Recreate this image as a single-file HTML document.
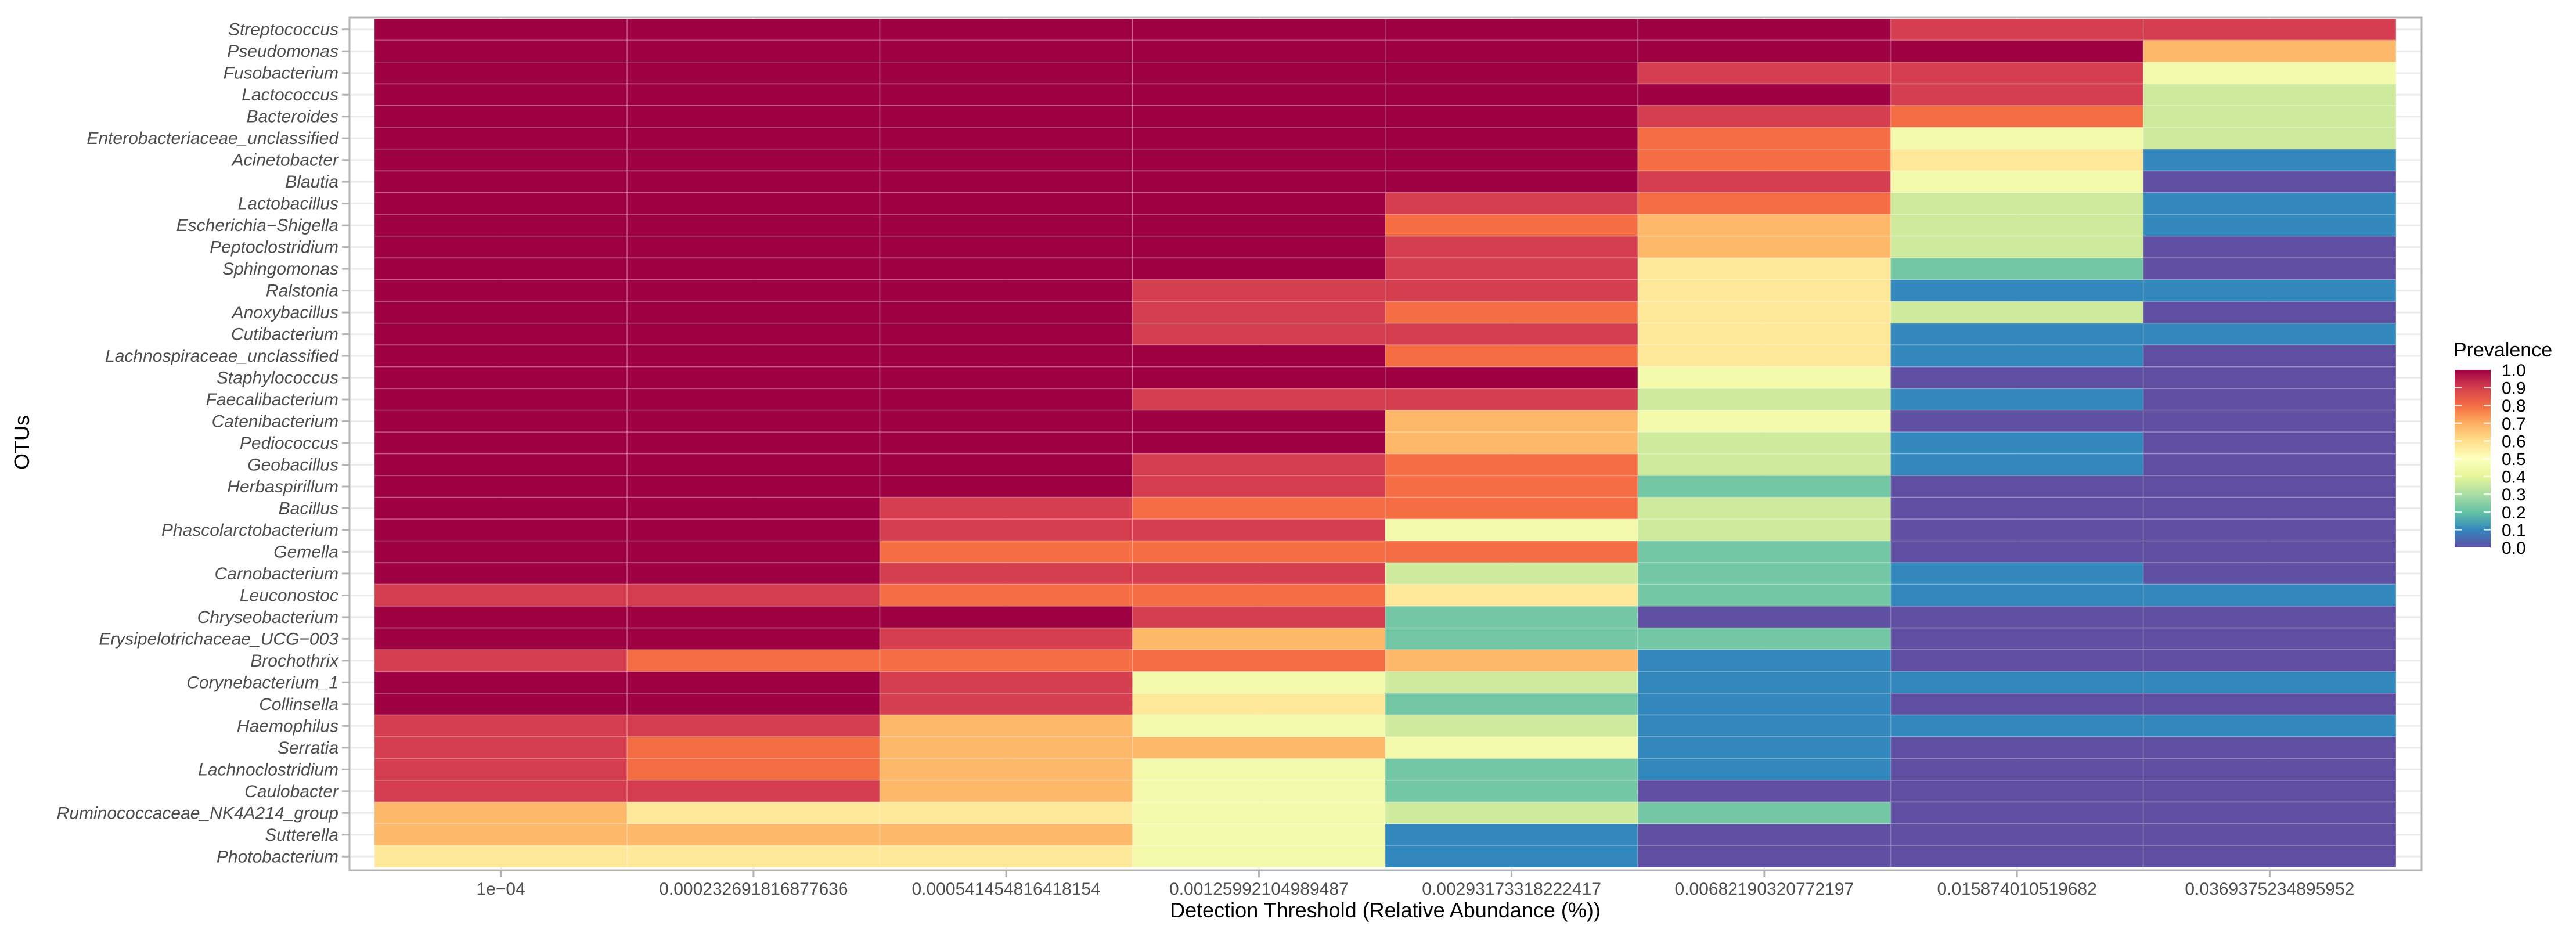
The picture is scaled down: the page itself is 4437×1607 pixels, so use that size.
<!DOCTYPE html>
<html><head><meta charset="utf-8"><style>
html,body{margin:0;padding:0;background:#fff;}
svg{display:block;font-family:"Liberation Sans",Arial,sans-serif;}
</style></head><body>
<svg id="chart" width="4437" height="1607" viewBox="0 0 4437 1607" xmlns="http://www.w3.org/2000/svg">
<defs>
<linearGradient id="spec" x1="0" y1="1" x2="0" y2="0">
<stop offset="0" stop-color="#5E4FA2"/><stop offset="0.1" stop-color="#3288BD"/><stop offset="0.2" stop-color="#66C2A5"/><stop offset="0.3" stop-color="#ABDDA4"/><stop offset="0.4" stop-color="#E6F598"/><stop offset="0.5" stop-color="#FFFFBF"/><stop offset="0.6" stop-color="#FEE08B"/><stop offset="0.7" stop-color="#FDAE61"/><stop offset="0.8" stop-color="#F46D43"/><stop offset="0.9" stop-color="#D53E4F"/><stop offset="1" stop-color="#9E0142"/>
</linearGradient>
</defs>
<rect x="602" y="30" width="3569" height="1469" fill="#fff" stroke="#b3b3b3" stroke-width="3"/>
<g id="grid"></g>
<g id="tiles"></g>
<g id="yaxis"></g>
<g id="xaxis"></g>
<text x="2386" y="1580" font-size="36" text-anchor="middle" fill="#000">Detection Threshold (Relative Abundance (%))</text>
<text transform="translate(50,762) rotate(-90)" font-size="36" text-anchor="middle" fill="#000">OTUs</text>
<g>
<text x="4226" y="614" font-size="34" fill="#000">Prevalence</text>
<rect x="4228" y="637" width="62" height="306" fill="url(#spec)"/>
<g id="legticks"></g>
</g>
</svg>
<script>
const thresholds = ["1e-04","0.000232691816877636","0.000541454816418154","0.00125992104989487","0.00293173318222417","0.00682190320772197","0.015874010519682","0.0369375234895952"];
const otus = ["Streptococcus","Pseudomonas","Fusobacterium","Lactococcus","Bacteroides","Enterobacteriaceae_unclassified","Acinetobacter","Blautia","Lactobacillus","Escherichia\u2212Shigella","Peptoclostridium","Sphingomonas","Ralstonia","Anoxybacillus","Cutibacterium","Lachnospiraceae_unclassified","Staphylococcus","Faecalibacterium","Catenibacterium","Pediococcus","Geobacillus","Herbaspirillum","Bacillus","Phascolarctobacterium","Gemella","Carnobacterium","Leuconostoc","Chryseobacterium","Erysipelotrichaceae_UCG\u2212003","Brochothrix","Corynebacterium_1","Collinsella","Haemophilus","Serratia","Lachnoclostridium","Caulobacter","Ruminococcaceae_NK4A214_group","Sutterella","Photobacterium"];
const prevalence = [
[1,1,1,1,1,1,0.9,0.9],
[1,1,1,1,1,1,1,0.68],
[1,1,1,1,1,0.9,0.9,0.45],
[1,1,1,1,1,1,0.9,0.36],
[1,1,1,1,1,0.9,0.8,0.36],
[1,1,1,1,1,0.8,0.45,0.36],
[1,1,1,1,1,0.8,0.57,0.1],
[1,1,1,1,1,0.9,0.45,0],
[1,1,1,1,0.9,0.8,0.36,0.1],
[1,1,1,1,0.8,0.68,0.36,0.1],
[1,1,1,1,0.9,0.68,0.36,0],
[1,1,1,1,0.9,0.57,0.22,0],
[1,1,1,0.9,0.9,0.57,0.1,0.1],
[1,1,1,0.9,0.8,0.57,0.36,0],
[1,1,1,0.9,0.9,0.57,0.1,0.1],
[1,1,1,1,0.8,0.57,0.1,0],
[1,1,1,1,1,0.45,0,0],
[1,1,1,0.9,0.9,0.36,0.1,0],
[1,1,1,1,0.68,0.45,0,0],
[1,1,1,1,0.68,0.36,0.1,0],
[1,1,1,0.9,0.8,0.36,0.1,0],
[1,1,1,0.9,0.8,0.22,0,0],
[1,1,0.9,0.8,0.8,0.36,0,0],
[1,1,0.9,0.9,0.45,0.36,0,0],
[1,1,0.8,0.8,0.8,0.22,0,0],
[1,1,0.9,0.9,0.36,0.22,0.1,0],
[0.9,0.9,0.8,0.8,0.57,0.22,0.1,0.1],
[1,1,1,0.9,0.22,0,0,0],
[1,1,0.9,0.68,0.22,0.22,0,0],
[0.9,0.8,0.8,0.8,0.68,0.1,0,0],
[1,1,0.9,0.45,0.36,0.1,0.1,0.1],
[1,1,0.9,0.57,0.22,0.1,0,0],
[0.9,0.9,0.68,0.45,0.36,0.1,0.1,0.1],
[0.9,0.8,0.68,0.68,0.45,0.1,0,0],
[0.9,0.8,0.68,0.45,0.22,0.1,0,0],
[0.9,0.9,0.68,0.45,0.22,0,0,0],
[0.68,0.57,0.57,0.45,0.36,0.22,0,0],
[0.68,0.68,0.68,0.45,0.1,0,0,0],
[0.57,0.57,0.57,0.45,0.1,0,0,0]
];
const legendTicks = [0,0.1,0.2,0.3,0.4,0.5,0.6,0.7,0.8,0.9,1.0];

const NS="http://www.w3.org/2000/svg";
const X0=645,X1=4127,Y0=32,Y1=1494;
const colW=(X1-X0)/thresholds.length, rowH=(Y1-Y0)/otus.length;
const xPos=i=>X0+i*colW, yPos=j=>Y0+j*rowH;
const pal=["#5E4FA2","#3288BD","#66C2A5","#ABDDA4","#E6F598","#FFFFBF","#FEE08B","#FDAE61","#F46D43","#D53E4F","#9E0142"];
function hex(c){return [1,3,5].map(k=>parseInt(c.substr(k,2),16));}
function color(v){const t=Math.max(0,Math.min(1,v))*10;const i=Math.min(9,Math.floor(t));const f=t-i;const a=hex(pal[i]),b=hex(pal[i+1]);return "rgb("+a.map((x,k)=>Math.round(x+(b[k]-x)*f)).join(",")+")";}
function mk(tag,attrs,parent){const e=document.createElementNS(NS,tag);for(const k in attrs)e.setAttribute(k,attrs[k]);parent.appendChild(e);return e;}

const grid=document.getElementById('grid');
otus.forEach((o,j)=>{const l=mk('line',{x1:604,x2:4169,y1:yPos(j)+rowH/2,y2:yPos(j)+rowH/2,stroke:'#ebebeb','stroke-width':3},grid);

});
thresholds.forEach((t,i)=>{const l=mk('line',{x1:xPos(i)+colW/2,x2:xPos(i)+colW/2,y1:31,y2:1498,stroke:'#ebebeb','stroke-width':3},grid);

});

const tiles=document.getElementById('tiles');
prevalence.forEach((row,j)=>row.forEach((v,i)=>{
const r=mk('rect',{x:xPos(i),y:yPos(j),width:colW,height:rowH,fill:color(v),stroke:'rgba(255,255,255,0.18)','stroke-width':2},tiles);


}));

const ya=document.getElementById('yaxis');
otus.forEach((o,j)=>{const cy=yPos(j)+rowH/2;
const tk=mk('line',{x1:589,x2:602,y1:cy,y2:cy,stroke:'#b3b3b3','stroke-width':3},ya);


const t=mk('text',{x:583,y:cy+10,'font-size':30,'font-style':'italic','text-anchor':'end',fill:'#4d4d4d'},ya);
t.textContent=o;

});

const xa=document.getElementById('xaxis');
thresholds.forEach((th,i)=>{const cx=xPos(i)+colW/2;
const tk=mk('line',{x1:cx,x2:cx,y1:1499,y2:1511,stroke:'#b3b3b3','stroke-width':3},xa);


const t=mk('text',{x:cx,y:1541,'font-size':30,'text-anchor':'middle',fill:'#4d4d4d'},xa);
t.textContent=th.replace('-','\u2212');

});

const lg=document.getElementById('legticks');
legendTicks.forEach(v=>{const y=943-v*306;
if(v>0&&v<1){
const a=mk('line',{x1:4228,x2:4240,y1:y,y2:y,stroke:'#fff','stroke-width':2.5,opacity:0.8},lg);


const b=mk('line',{x1:4278,x2:4290,y1:y,y2:y,stroke:'#fff','stroke-width':2.5,opacity:0.8},lg);

}
const t=mk('text',{x:4309,y:y+11,'font-size':30,fill:'#000'},lg);
t.textContent=v.toFixed(1);

});
</script>
</body></html>
